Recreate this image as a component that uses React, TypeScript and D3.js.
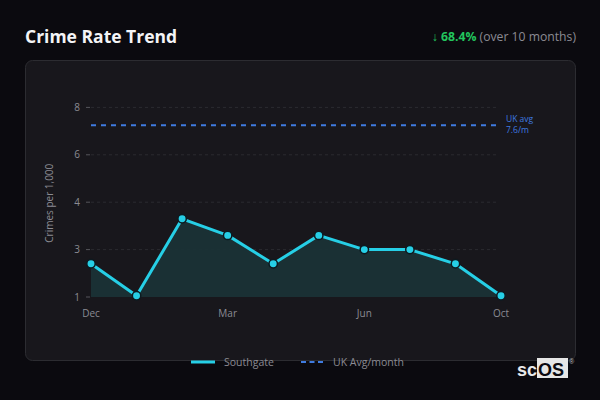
import * as d3 from 'd3';

const width = 600;
const height = 400;
const margin = { top: 107, right: 99, bottom: 103, left: 91 };

// values (y axis uses the chart's own uneven tick spacing)
const months = ['Dec', 'Jan', 'Feb', 'Mar', 'Apr', 'May', 'Jun', 'Jul', 'Aug', 'Oct'];
const southgate = [2.4, 1.05, 3.65, 3.3, 2.4, 3.3, 3.0, 3.0, 2.4, 1.05];
const ukAvg = 7.25;
const yTicks = [1, 3, 4, 6, 8];
const xTickLabels = ['Dec', 'Mar', 'Jun', 'Oct'];

const font = "'Open Sans', 'Noto Sans', sans-serif";
const cyan = '#26cfe6';
const blue = '#3f7be0';
const muted = '#8b8b93';

export default function App() {
  const plotBottom = height - margin.bottom;
  const x = d3
    .scalePoint<string>()
    .domain(months)
    .range([margin.left, width - margin.right]);
  // polylinear scale: the source axis spaces its ticks evenly
  const y = d3
    .scaleLinear()
    .domain(yTicks)
    .range(yTicks.map((_, i) => plotBottom - i * 47.4));

  const pts = months.map((m, i) => ({ m, v: southgate[i] }));
  const line = d3
    .line<{ m: string; v: number }>()
    .x((d) => x(d.m)!)
    .y((d) => y(d.v));
  const area = d3
    .area<{ m: string; v: number }>()
    .x((d) => x(d.m)!)
    .y0(y(yTicks[0]))
    .y1((d) => y(d.v));

  const x0 = margin.left;
  const x1 = x(months[months.length - 1])!;

  return (
    <div
      style={{
        position: 'fixed',
        left: 0,
        top: 0,
        width,
        height,
        background: '#0b0a0f',
      }}
    >
      <svg width={width} height={height} style={{ display: 'block' }} fontFamily={font}>
        <rect width={width} height={height} fill="#0b0a0f" />
        <text x={25} y={43} fill="#f4f4f6" fontSize={17.5} fontWeight={700}>
          Crime Rate Trend
        </text>
        <text x={576} y={41} textAnchor="end" fontSize={12.2}>
          <tspan fill="#22c55e" fontWeight={700}>↓ 68.4%</tspan>
          <tspan fill={muted}> (over 10 months)</tspan>
        </text>

        <rect
          x={25.5}
          y={60.5}
          width={550}
          height={300}
          rx={7}
          fill="#18171c"
          stroke="#2c2c31"
        />

        {/* grid + y axis */}
        <g>
          {yTicks.map((t, i) => (
            <g key={t} transform={`translate(0,${y(t)})`}>
              {i > 0 && (
                <line
                  x1={x0}
                  x2={x1 - 5}
                  stroke="#2b2b30"
                  strokeDasharray="3,3"
                />
              )}
              <line x1={86} x2={90} stroke="#55555b" />
              <text x={80} dy="0.35em" textAnchor="end" fill={muted} fontSize={10}>
                {t}
              </text>
            </g>
          ))}
          <text
            transform={`translate(53,${(y(8) + plotBottom) / 2 + 1}) rotate(-90)`}
            textAnchor="middle"
            fill={muted}
            fontSize={10}
          >
            Crimes per 1,000
          </text>
        </g>

        {/* x axis labels */}
        {xTickLabels.map((m) => (
          <text
            key={m}
            x={x(m)}
            y={317}
            textAnchor="middle"
            fill={muted}
            fontSize={10}
          >
            {m}
          </text>
        ))}

        {/* UK average */}
        <line
          x1={x0}
          x2={x1 - 4}
          y1={y(ukAvg)}
          y2={y(ukAvg)}
          stroke={blue}
          strokeWidth={2}
          strokeDasharray="5,5"
        />
        <text x={506} y={y(ukAvg) - 3} fill={blue} fontSize={8.5}>
          UK avg
        </text>
        <text x={506} y={y(ukAvg) + 8} fill={blue} fontSize={8.5}>
          7.6/m
        </text>

        {/* Southgate series */}
        <path d={area(pts)!} fill="#1a3136" opacity={0.95} />
        <path
          d={line(pts)!}
          fill="none"
          stroke={cyan}
          strokeWidth={3}
          strokeLinejoin="round"
        />
        {pts.map((d) => (
          <circle
            key={d.m}
            cx={x(d.m)}
            cy={y(d.v)}
            r={4.2}
            fill={cyan}
            stroke="#0d1a20"
            strokeWidth={1.5}
          />
        ))}

        {/* legend */}
        <line x1={191} x2={215} y1={362} y2={362} stroke={cyan} strokeWidth={3} />
        <text x={224} y={366} fill={muted} fontSize={10.5}>
          Southgate
        </text>
        <line
          x1={301}
          x2={326}
          y1={362}
          y2={362}
          stroke={blue}
          strokeWidth={2}
          strokeDasharray="5,3.5"
        />
        <text x={333} y={366} fill={muted} fontSize={10.5}>
          UK Avg/month
        </text>

        {/* watermark */}
        <g fontFamily="'Liberation Sans', Arial, sans-serif" fontWeight={700} fontSize={18}>
          <text x={517} y={376} fill="#e8e8ea">
            sc
          </text>
          <rect x={537} y={358} width={31} height={20} fill="#e6e6e6" />
          <text x={538} y={376} fill="#0b0a0f">
            OS
          </text>
          <text x={569} y={364} fill="#bbbbbb" fontSize={7} fontWeight={400}>
            ®
          </text>
        </g>
      </svg>
    </div>
  );
}
